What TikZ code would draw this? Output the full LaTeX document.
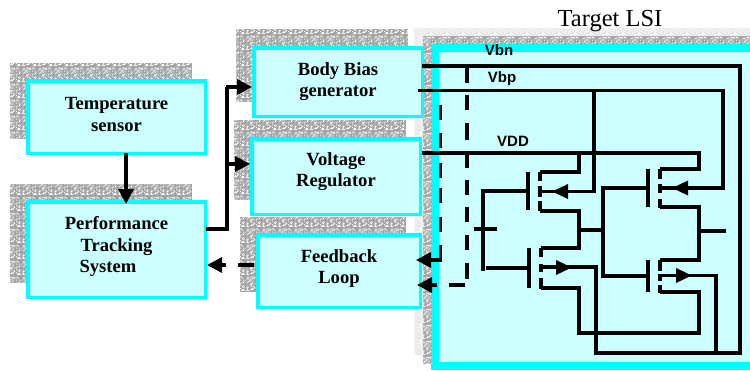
\documentclass[tikz,border=0pt]{standalone}
\usepackage{fontspec}
\setmainfont{Liberation Serif}
\setsansfont{Liberation Sans}
\usetikzlibrary{arrows.meta,patterns}
\definecolor{boxcyan}{HTML}{00FFFF}
\definecolor{boxfill}{HTML}{CCFFFF}
\pgfmathsetseed{4711}
\pgfdeclarepatternformonly{noisepat}{\pgfqpoint{0pt}{0pt}}{\pgfqpoint{16pt}{16pt}}{\pgfqpoint{16pt}{16pt}}{%
  \foreach \k in {1,...,75}{%
    \pgfmathsetmacro{\px}{int(random(0,15))}%
    \pgfmathsetmacro{\py}{int(random(0,15))}%
    \pgfpathrectangle{\pgfqpoint{\px pt}{\py pt}}{\pgfqpoint{1pt}{1pt}}%
  }%
  \pgfusepath{fill}%
}
\tikzset{
  x=1pt,y=-1pt,
  wire/.style={line width=3.3pt,line join=miter,black},
  thin wire/.style={line width=3.2pt,black},
  sd/.style={line width=3.6pt,black},
  big arrow/.style={wire,-{Triangle[length=15pt,width=15pt]}},
  fet arrow/.style={wire,-{Triangle[length=16pt,width=14pt]}},
  box/.style={draw=boxcyan,fill=boxfill,line width=3.5pt,inner sep=0pt,outer sep=0pt},
  boxlabel/.style={font=\rmfamily\bfseries\fontsize{18.6}{21.5}\selectfont,align=center,inner sep=0pt},
  rail/.style={font=\sffamily\bfseries\fontsize{15}{18}\selectfont,inner sep=0pt},
  noise/.style={fill=gray!72,postaction={pattern=noisepat,pattern color=white}},
  lightnoise/.style={fill=gray!10,postaction={pattern=noisepat,pattern color=gray!22}}
}
\begin{document}
\begin{tikzpicture}
\clip (0,0) rectangle (750,370);
% shadows
\path[lightnoise] (414,28) rectangle (760,355);
\path[noise] (423,36) rectangle (760,364);
\path[noise] (10,63) rectangle (192,139);
\path[noise] (10,184) rectangle (192,283);
\path[noise] (236,29) rectangle (408,102);
\path[noise] (234,120) rectangle (406,200);
\path[noise] (240,217) rectangle (406,292);
% boxes
\node[box,minimum width=177.5pt,minimum height=72.5pt] (temp) at (116.5,117) {};
\node[box,minimum width=177.5pt,minimum height=95.5pt] (perf) at (116.5,249.5) {};
\node[box,minimum width=168.5pt,minimum height=68.5pt] (body) at (338,82) {};
\node[box,minimum width=168.5pt,minimum height=75.5pt] (volt) at (336,176.5) {};
\node[box,minimum width=162.5pt,minimum height=72.5pt] (feed) at (339,271) {};
\node[box,line width=8pt,minimum width=325pt,minimum height=318pt] (lsi) at (597.5,206.5) {};
% labels
\node[boxlabel] (templ) at (116.5,114.5) {Temperature\\sensor};
\node[boxlabel] (perfl) at (116.5,246.5) {Performance\\Tracking\\\hspace*{-17pt}System};
\node[boxlabel] (bodyl) at (338,81.5) {Body Bias\\generator};
\node[boxlabel] (voltl) at (336,171.5) {Voltage\\Regulator};
\node[boxlabel] (feedl) at (339,268.5) {Feedback\\Loop};
\node[font=\rmfamily\fontsize{24.5}{26}\selectfont,inner sep=0pt] (title) at (610,21) {Target LSI};
\node[rail] (vbn) at (499,50) {Vbn};
\node[rail] (vbp) at (502,79) {Vbp};
\node[rail] (vdd) at (513,141) {VDD};
% left connectors
\draw[big arrow] (temp.south -| 126,155) -- (126,204);
\coordinate (bus) at (227,229);
\coordinate (busb) at (227,87);
\draw[wire] (206,229) -- (bus) -- (busb);
\draw[big arrow] (225.5,87) -- (252,87);
\draw[big arrow] (bus |- 0,164) -- (250,164);
\draw[big arrow] (226,265) -- (207,265);
\draw[wire] (254,265) -- (238,265);
% rails
\coordinate (vbnc) at (740,66);
\coordinate (vbpc) at (723,90.5);
\coordinate (vddc) at (699,153);
\coordinate (botr) at (740,353);
\draw[wire] (422,66) -- (vbnc) -- (botr) -- (596,353) -- (596,267) -- (541,267);
\draw[wire] (418,90.5) -- (vbpc) -- (723,188) -- (660,188);
\draw[wire] (594,90.5) -- (594,191.5) -- (540,191.5);
\draw[wire] (422,153) -- (vddc) -- (699,169) -- (660,169);
\draw[wire] (579,153) -- (579,172) -- (540,172);
\draw[wire] (716,353) -- (716,275.5) -- (660,275.5);
% dashed sense lines
\foreach \a/\b in {68/83,95/110,123/140,153/168,180/195,207/222,235/250,263/279}
  \draw[sd] (467,\a) -- (467,\b);
\draw[wire] (465,285) -- (449,285);
\draw[big arrow] (437,285) -- (417,285);
\foreach \a/\b in {105/120,133/148,163/178,188/203,217/232,245/261}
  \draw[sd] (440.5,\a) -- (440.5,\b);
\draw[big arrow] (442,260) -- (416,260);
% left inverter
\draw[wire] (528,172) -- (528,210);
\draw[wire] (529,248) -- (529,288);
\draw[wire] (528,191) -- (483,191) -- (483,271);
\draw[wire] (474,229) -- (497,229);
\draw[wire] (486,268) -- (529,268);
\foreach \a/\b in {172/181,186/197,201/211} \draw[sd] (540,\a) -- (540,\b);
\foreach \a/\b in {248/257,264/272,278/289} \draw[sd] (541,\a) -- (541,\b);
\draw[wire] (540,211) -- (579,211) -- (579,248) -- (541,248);
\draw[wire] (541,288) -- (579,288) -- (579,333) -- (699,333) -- (699,292) -- (660,292);
\draw[fet arrow] (568,191.5) -- (552,191.5);
\draw[fet arrow] (555,267.5) -- (572,267.5);
% right inverter
\draw[thin wire] (579,230) -- (603,230);
\draw[wire] (647,188) -- (603,188) -- (603,276) -- (647,276);
\draw[wire] (648,169) -- (648,207);
\draw[wire] (648,260) -- (648,292);
\foreach \a/\b in {169/179,184/193,199/208} \draw[sd] (660,\a) -- (660,\b);
\foreach \a/\b in {260/271,274/281,285/293} \draw[sd] (660,\a) -- (660,\b);
\draw[wire] (660,207) -- (699,207) -- (699,260) -- (660,260);
\draw[thin wire] (699,231) -- (726,231);
\draw[fet arrow] (688,188) -- (672,188);
\draw[fet arrow] (675,275.5) -- (692,275.5);
\end{tikzpicture}
\end{document}
